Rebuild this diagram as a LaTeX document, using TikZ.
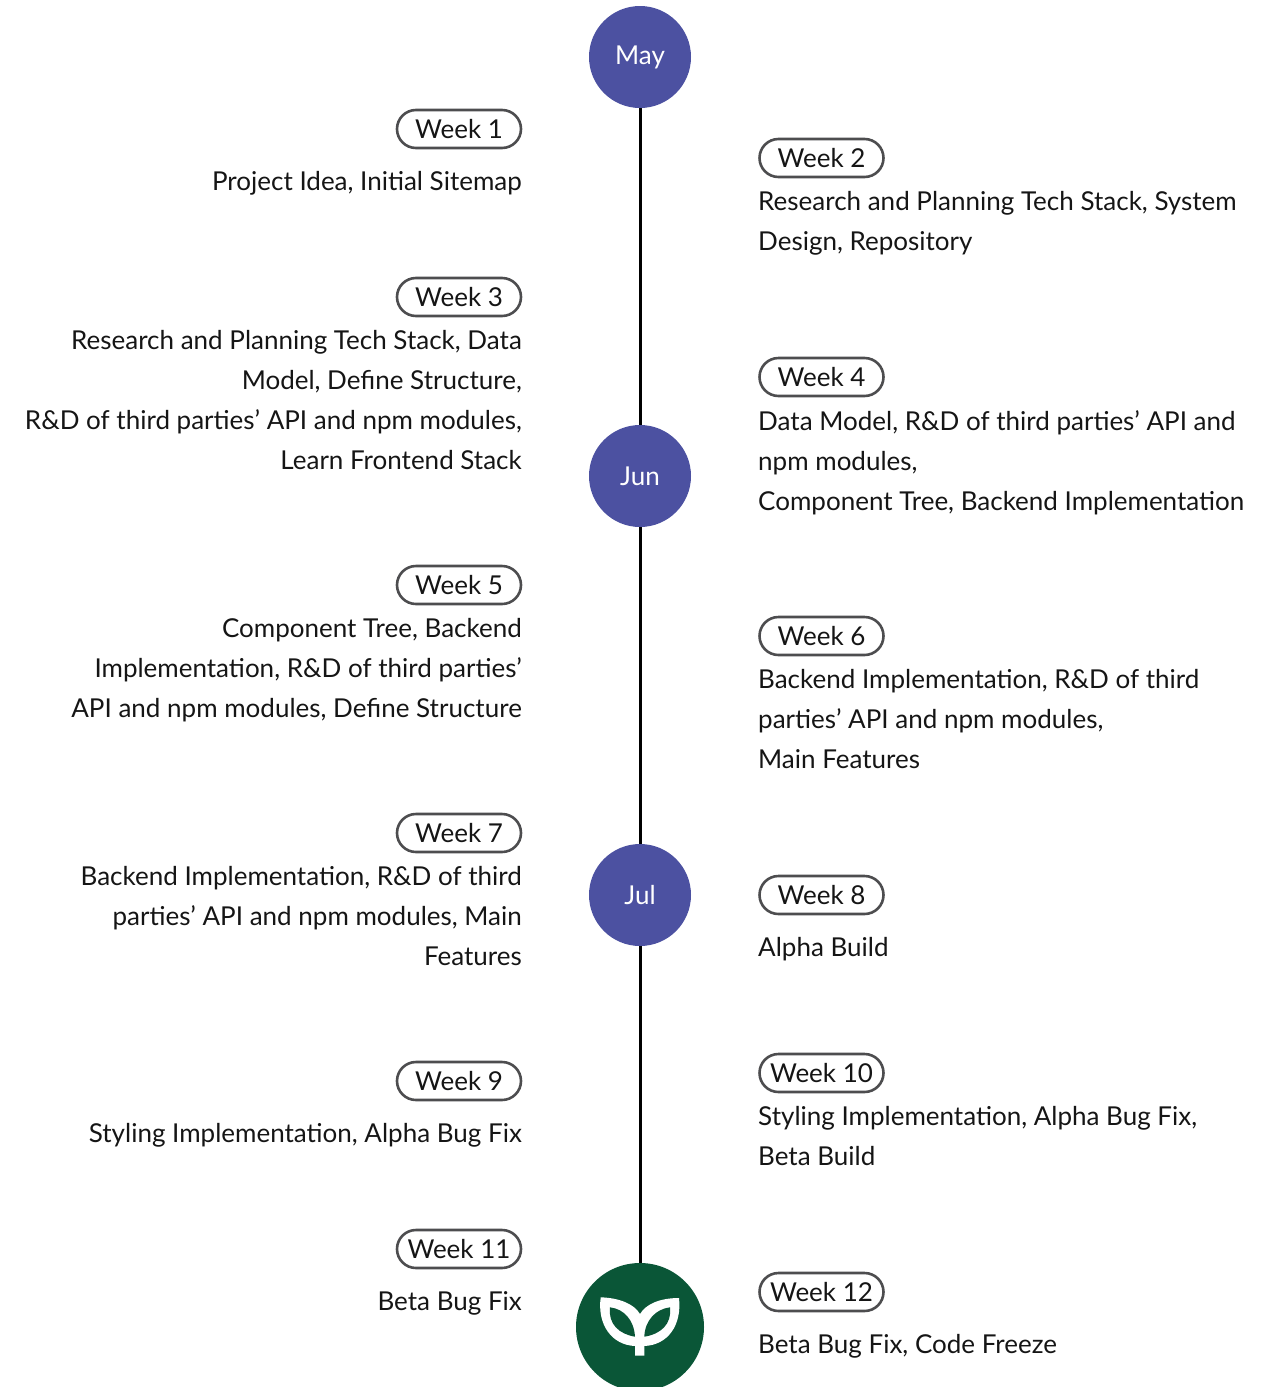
\documentclass[tikz,border=0pt]{standalone}
\usepackage{fontspec}
\setmainfont{Lato}
\definecolor{monthblue}{HTML}{4C51A1}
\definecolor{leafgreen}{HTML}{0A5637}
\definecolor{pillgrey}{HTML}{4D4D4F}
\definecolor{inkblack}{HTML}{151515}
\tikzset{
  month/.style={circle, fill=monthblue, text=white, minimum size=102pt, inner sep=0pt, font=\fontsize{26}{30}\selectfont},
  weekpill/.style={draw=pillgrey, line width=2.6pt, rounded corners=19pt, minimum width=124pt, minimum height=38pt, inner sep=0pt, text=inkblack, font=\fontsize{26}{30}\selectfont},
  lefttext/.style={anchor=north east, align=right, inner sep=0pt, text=inkblack, font=\fontsize{26}{40}\selectfont, execute at begin node=\strut},
  righttext/.style={anchor=north west, align=left, inner sep=0pt, text=inkblack, font=\fontsize{26}{40}\selectfont, execute at begin node=\strut},
}
\begin{document}
\begin{tikzpicture}[x=1pt, y=-1pt]
\useasboundingbox (0,0) rectangle (1277,1387);
% Months
    \node[month] (may) at (640,57) {May};
    \node[month] (jun) at (640,476) {Jun};
    \node[month] (jul) at (640,895) {Jul};
    \node[circle, fill=leafgreen, minimum size=128pt, inner sep=0pt] (plant) at (640,1327) {};
% Timeline
    \draw[line width=3pt, black] (may) -- (jun);
    \draw[line width=3pt, black] (jun) -- (jul);
    \draw[line width=3pt, black] (jul) -- (plant);
% Plant
    \fill[white] (600.7,1297.3) .. controls (620,1298) and (634,1304) .. (640,1314) .. controls (646,1304) and (660,1298) .. (679,1298) .. controls (682,1325) and (668,1345) .. (644.3,1346) -- (644.3,1355.7) -- (635,1355.7) -- (635,1346) .. controls (612,1345) and (597,1325) .. (600.7,1297.3) -- cycle;
    \fill[leafgreen] (610,1307.3) .. controls (624,1309) and (634,1320) .. (635,1336.7) .. controls (619,1334) and (608,1324) .. (610,1307.3) -- cycle;
    \fill[leafgreen] (670,1307.3) .. controls (656,1309) and (645,1320) .. (644.3,1336.7) .. controls (661,1334) and (672,1324) .. (670,1307.3) -- cycle;
% Left column
    \node[weekpill] (week1) at (459,129) {Week 1};
    \node[lefttext] (text1) at (522,162) {Project Idea, Initial Sitemap};
    \node[weekpill] (week3) at (459,297) {Week 3};
    \node[lefttext] (text3) at (522,330) {Research and Planning Tech Stack, Data\\Model, Define Structure,\hspace{6pt}\\R\&D of third parties' API and npm modules,\\Learn Frontend Stack};
    \node[weekpill] (week5) at (459,585) {Week 5};
    \node[lefttext] (text5) at (522,618) {Component Tree, Backend\\Implementation, R\&D of third parties'\\API and npm modules, Define Structure};
    \node[weekpill] (week7) at (459,833) {Week 7};
    \node[lefttext] (text7) at (522,866) {Backend Implementation, R\&D of third\\parties' API and npm modules, Main\\Features};
    \node[weekpill] (week9) at (459,1081) {Week 9};
    \node[lefttext] (text9) at (522,1114) {Styling Implementation, Alpha Bug Fix};
    \node[weekpill] (week11) at (459,1249) {Week 11};
    \node[lefttext] (text11) at (522,1282) {Beta Bug Fix};
% Right column
    \node[weekpill] (week2) at (821.5,158) {Week 2};
    \node[righttext] (text2) at (758,191) {Research and Planning Tech Stack, System\\Design, Repository};
    \node[weekpill] (week4) at (821.5,377) {Week 4};
    \node[righttext] (text4) at (758,410) {Data Model, R\&D of third parties' API and\\npm modules,\\Component Tree, Backend Implementation};
    \node[weekpill] (week6) at (821.5,636) {Week 6};
    \node[righttext] (text6) at (758,669) {Backend Implementation, R\&D of third\\parties' API and npm modules,\\Main Features};
    \node[weekpill] (week8) at (821.5,895) {Week 8};
    \node[righttext] (text8) at (758,928) {Alpha Build};
    \node[weekpill] (week10) at (821.5,1073) {Week 10};
    \node[righttext] (text10) at (758,1106) {Styling Implementation, Alpha Bug Fix,\\Beta Build};
    \node[weekpill] (week12) at (821.5,1292) {Week 12};
    \node[righttext] (text12) at (758,1325) {Beta Bug Fix, Code Freeze};
\end{tikzpicture}
\end{document}
